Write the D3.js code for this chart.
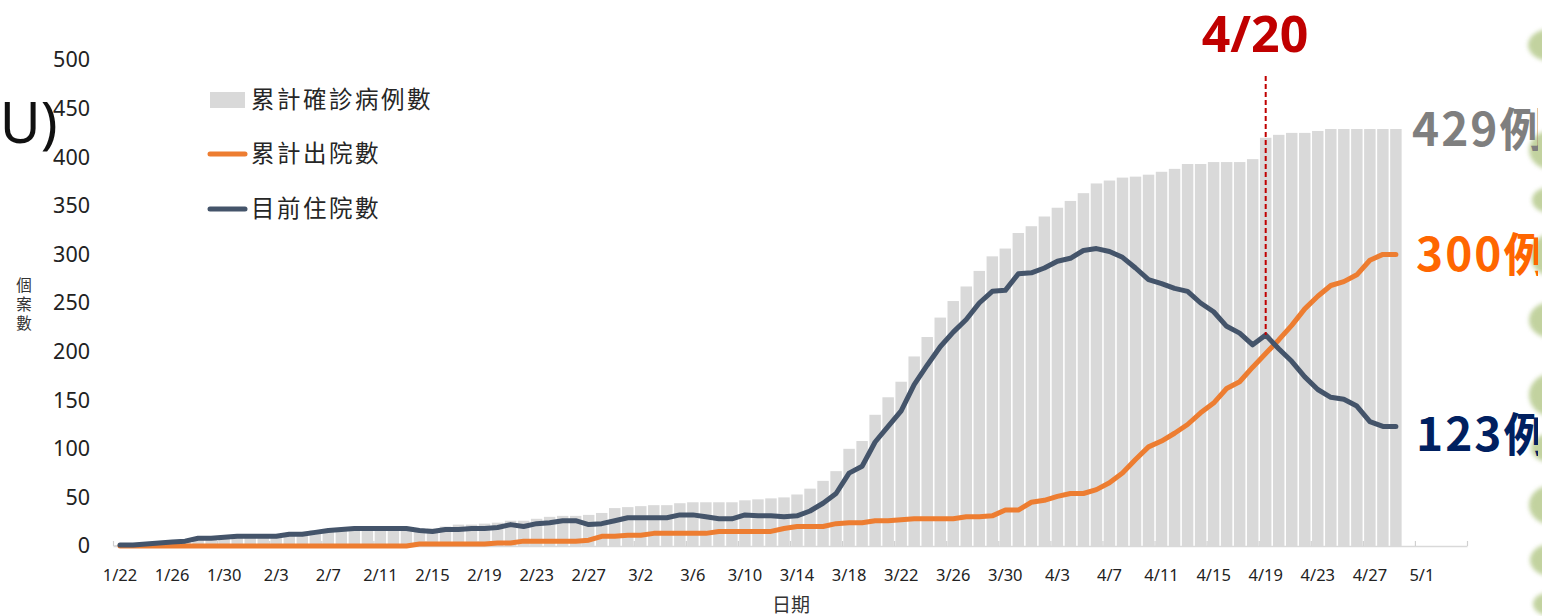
<!DOCTYPE html>
<html>
<head>
<meta charset="utf-8">
<script src="https://cdn.jsdelivr.net/npm/d3@7"></script>
<style>
  html, body { margin: 0; padding: 0; background: #fff; }
  svg { display: block; }
  text { font-family: "Noto Sans", "Noto Sans CJK TC", sans-serif; }
  .cjk { font-family: "Noto Sans CJK TC", "Noto Sans", sans-serif; }
</style>
</head>
<body>
<svg id="chart"></svg>
<script>
// cumulative confirmed cases, 1/22 .. 4/29
var confirmed = [
  1, 1, 3, 3, 4, 5, 8, 8, 9, 10,
  10, 10, 10, 11, 11, 16, 16, 17, 18, 18,
  18, 18, 18, 18, 18, 20, 22, 22, 23, 24,
  26, 26, 28, 30, 31, 31, 32, 34, 39, 40,
  41, 42, 42, 44, 45, 45, 45, 45, 47, 48,
  49, 50, 53, 59, 67, 77, 100, 108, 135, 153,
  169, 195, 215, 235, 252, 267, 283, 298, 306, 322,
  329, 339, 348, 355, 363, 373, 376, 379, 380, 382,
  385, 388, 393, 393, 395, 395, 395, 398, 420, 423,
  425, 425, 427, 429, 429, 429, 429, 429, 429
];
// cumulative discharged
var discharged = [
  0, 0, 0, 0, 0, 0, 0, 0, 0, 0,
  0, 0, 0, 0, 0, 0, 0, 0, 0, 0,
  0, 0, 0, 2, 2, 2, 2, 2, 2, 3,
  3, 5, 5, 5, 5, 5, 6, 10, 10, 11,
  11, 13, 13, 13, 13, 13, 15, 15, 15, 15,
  15, 18, 20, 20, 20, 23, 24, 24, 26, 26,
  27, 28, 28, 28, 28, 30, 30, 31, 37, 37,
  45, 47, 51, 54, 54, 58, 65, 75, 89, 102,
  108, 116, 125, 137, 147, 162, 169, 184, 198, 212,
  227, 244, 257, 268, 272, 279, 294, 300, 300
];
// currently hospitalised
var inHospital = [
  1, 1, 2, 3, 4, 5, 8, 8, 9, 10,
  10, 10, 10, 12, 12, 14, 16, 17, 18, 18,
  18, 18, 18, 16, 15, 17, 17, 18, 18, 19,
  22, 20, 23, 24, 26, 26, 22, 23, 26, 29,
  29, 29, 29, 32, 32, 30, 28, 28, 32, 31,
  31, 30, 31, 36, 44, 54, 75, 82, 107, 123,
  139, 166, 186, 205, 220, 233, 250, 262, 263, 280,
  281, 286, 293, 296, 304, 306, 303, 297, 286, 274,
  270, 265, 262, 250, 241, 226, 219, 207, 217, 203,
  190, 174, 161, 153, 151, 144, 128, 123, 123
];
var tickLabels = ["1/22","1/26","1/30","2/3","2/7","2/11","2/15","2/19","2/23","2/27",
  "3/2","3/6","3/10","3/14","3/18","3/22","3/26","3/30","4/3","4/7",
  "4/11","4/15","4/19","4/23","4/27","5/1"];
var yTicks = [0, 50, 100, 150, 200, 250, 300, 350, 400, 450, 500];
var seriesNames = ["累計確診病例數", "累計出院數", "目前住院數"];
var endLabels = ["429例", "300例", "123例"];
var markDay = "4/19", markText = "4/20";

var fmt = d3.utcFormat("%-m/%-d");
// axis runs 1/22 .. 5/4, data up to 4/29
var axisDays = d3.utcDay.range(new Date(Date.UTC(2020,0,22)), new Date(Date.UTC(2020,4,5))).map(fmt);
var days = axisDays.slice(0, confirmed.length);

var W = 1542, H = 616;
var svg = d3.select("#chart").attr("width", W).attr("height", H);
var defs = svg.append("defs");

var x = d3.scaleBand().domain(axisDays).range([113.5, 1467.5])
    .paddingInner(0.12).paddingOuter(0.06);
var y = d3.scaleLinear().domain([0, 500]).range([546, 60]);
var cx = d => x(d) + x.bandwidth() / 2;
var step = x.step();

// bars
svg.append("g").selectAll("rect")
  .data(days)
  .enter().append("rect")
    .attr("x", d => x(d))
    .attr("width", x.bandwidth())
    .attr("y", (d, i) => y(confirmed[i]))
    .attr("height", (d, i) => y(0) - y(confirmed[i]))
    .attr("fill", "#d9d9d9");

// x axis line + tick marks at slot boundaries
svg.append("line")
  .attr("x1", 113.5).attr("x2", 1467.5)
  .attr("y1", 546.5).attr("y2", 546.5)
  .attr("stroke", "#d9d9d9").attr("stroke-width", 1.5);
svg.append("g").selectAll("line")
  .data(d3.range(0, axisDays.length + 1, 4))
  .enter().append("line")
    .attr("x1", i => 113.5 + i * step).attr("x2", i => 113.5 + i * step)
    .attr("y1", 546).attr("y2", 541)
    .attr("stroke", "#d0d0d0").attr("stroke-width", 1.2);

var xAxis = svg.append("g")
  .attr("transform", "translate(0,546)")
  .call(d3.axisBottom(x).tickValues(tickLabels).tickSize(0).tickPadding(23));
xAxis.select(".domain").remove();
xAxis.selectAll("text").attr("font-size", 16.5).attr("fill", "#222")
  .attr("font-family", "Noto Sans");

var yAxis = svg.append("g")
  .attr("transform", "translate(98,0)")
  .call(d3.axisLeft(y).tickValues(yTicks).tickSize(0).tickPadding(8));
yAxis.select(".domain").remove();
yAxis.selectAll("text").attr("font-size", 21.5).attr("fill", "#222")
  .attr("font-family", "Noto Sans");

// lines
var line = arr => d3.line().x(d => cx(d)).y((d, i) => y(arr[i]))(days);
svg.append("path").attr("d", line(discharged))
  .attr("fill", "none").attr("stroke", "#ED7D31").attr("stroke-width", 5)
  .attr("stroke-linejoin", "round").attr("stroke-linecap", "round");
svg.append("path").attr("d", line(inHospital))
  .attr("fill", "none").attr("stroke", "#44546A").attr("stroke-width", 5)
  .attr("stroke-linejoin", "round").attr("stroke-linecap", "round");

// 4/20 marker
var mi = days.indexOf(markDay);
svg.append("line")
  .attr("x1", cx(markDay)).attr("x2", cx(markDay))
  .attr("y1", 76).attr("y2", y(inHospital[mi]))
  .attr("stroke", "#C00000").attr("stroke-width", 2)
  .attr("stroke-dasharray", "5,3");
svg.append("text").attr("x", 1255).attr("y", 52)
  .attr("text-anchor", "middle").attr("font-size", 50).attr("font-weight", 700)
  .attr("fill", "#C00000").text(markText);

// legend
var leg = svg.append("g").attr("class", "cjk");
leg.append("rect").attr("x", 210).attr("y", 92).attr("width", 35).attr("height", 16).attr("fill", "#d9d9d9");
[["#ED7D31", 154], ["#44546A", 209]].forEach(function(s) {
  leg.append("line").attr("x1", 210).attr("x2", 245).attr("y1", s[1]).attr("y2", s[1])
    .attr("stroke", s[0]).attr("stroke-width", 5).attr("stroke-linecap", "round");
});
[100, 154, 209].forEach(function(yy, i) {
  leg.append("text").attr("class", "cjk").attr("x", 251).attr("y", yy)
    .attr("dy", "0.36em").attr("font-size", 23.5).attr("letter-spacing", 2.5)
    .attr("fill", "#262626").text(seriesNames[i]);
});

// axis titles
["個", "案", "數"].forEach(function(c, i) {
  svg.append("text").attr("class", "cjk").attr("x", 24).attr("y", 285 + i * 19)
    .attr("dy", "0.36em").attr("text-anchor", "middle").attr("font-size", 15.5)
    .attr("fill", "#333").text(c);
});
svg.append("text").attr("class", "cjk").attr("x", 791).attr("y", 612)
  .attr("text-anchor", "middle").attr("font-size", 19).attr("fill", "#333").text("日期");

// stray "(U)" fragment on the left
svg.append("text").attr("x", -17).attr("y", 143).attr("font-size", 56)
  .attr("fill", "#111").text("(U)");

// leaves strip at the right edge
var leaves = svg.append("g");
defs.append("filter").attr("id", "blur").append("feGaussianBlur").attr("stdDeviation", 2);
defs.append("clipPath").attr("id", "clipTxt").append("rect").attr("x", 0).attr("y", 0).attr("width", 1538).attr("height", H);
[[1550, 45, 22, 16], [1553, 150, 24, 20], [1550, 200, 18, 13], [1554, 255, 24, 22],
 [1551, 320, 22, 18], [1553, 395, 24, 22], [1549, 448, 18, 14], [1553, 505, 24, 20],
 [1550, 560, 20, 16], [1551, 604, 18, 12]].forEach(function(l) {
  leaves.append("ellipse").attr("cx", l[0]).attr("cy", l[1]).attr("rx", l[2]).attr("ry", l[3])
    .attr("fill", "#b3c888").attr("opacity", 0.8).attr("filter", "url(#blur)");
});

// end labels
var endY = [confirmed[confirmed.length - 1], discharged[discharged.length - 1], inHospital[inHospital.length - 1]];
var endCol = ["#7F7F7F", "#FF6600", "#002060"];
var endX = [1412, 1416, 1416];
var endOff = [0, 0, 8];
endLabels.forEach(function(t, i) {
  svg.append("text").attr("class", "cjk").attr("clip-path", "url(#clipTxt)")
    .attr("x", endX[i]).attr("y", y(endY[i]) + endOff[i]).attr("dy", "0.36em")
    .attr("font-size", 46).attr("font-weight", 700).attr("letter-spacing", 2)
    .attr("fill", endCol[i]).text(t);
});
</script>
</body>
</html>
